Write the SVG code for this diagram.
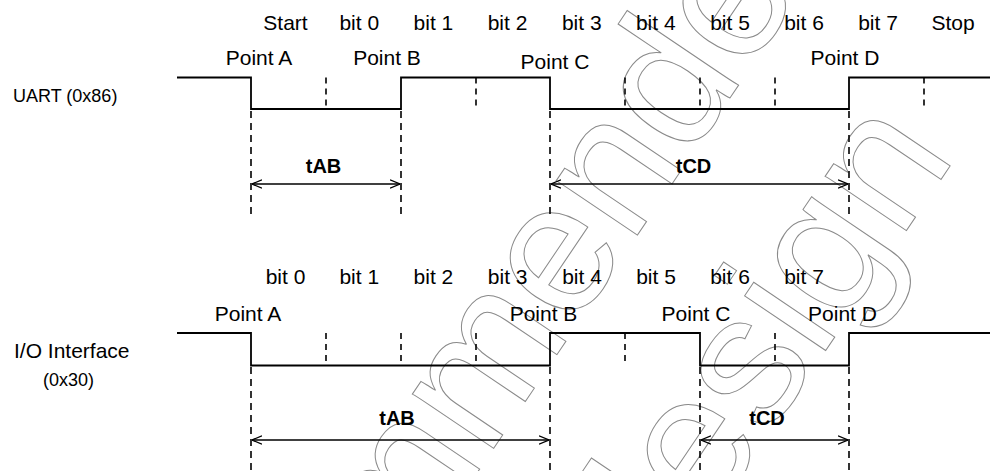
<svg xmlns="http://www.w3.org/2000/svg" width="990" height="471" viewBox="0 0 990 471">
<style>
text{font-family:"Liberation Sans",Arial,Helvetica,sans-serif;fill:#000}
.lbl{font-size:21px;text-anchor:middle}
.sig{font-size:18px}
.big{font-size:21px}
.dim{font-size:20px;font-weight:bold;text-anchor:middle}
.wave{fill:none;stroke:#000;stroke-width:1.8}
.tick{fill:none;stroke:#000;stroke-width:1.6;stroke-dasharray:6,5}
.guide{fill:none;stroke:#000;stroke-width:1.6;stroke-dasharray:7,5}
.arr{fill:none;stroke:#000;stroke-width:1.5;marker-start:url(#ah);marker-end:url(#ah)}
.wm{font-size:185px;fill:none;stroke:#8a8a8a;stroke-width:1}
</style>
<defs>
<marker id="ah" viewBox="0 0 10 10" refX="10" refY="5" markerWidth="10" markerHeight="10" markerUnits="userSpaceOnUse" orient="auto-start-reverse">
<path d="M0,0.8 L10,5 L0,9.2" fill="none" stroke="#000" stroke-width="1.3"/>
</marker>
</defs>
<rect width="990" height="471" fill="#fff"/>

<g id="watermark">
<text class="wm" transform="translate(199,885) rotate(-56)">recommended</text>
<text class="wm" transform="translate(652,608) rotate(-56)">design</text>
</g>

<g id="uart">
<text class="sig" x="13" y="101.5">UART (0x86)</text>
<g id="uart-bits">
<text class="lbl" x="285.5" y="29.5">Start</text>
<text class="lbl" x="359.3" y="29.5">bit 0</text>
<text class="lbl" x="433.4" y="29.5">bit 1</text>
<text class="lbl" x="507.5" y="29.5">bit 2</text>
<text class="lbl" x="581.8" y="29.5">bit 3</text>
<text class="lbl" x="655.8" y="29.5">bit 4</text>
<text class="lbl" x="730" y="29.5">bit 5</text>
<text class="lbl" x="804" y="29.5">bit 6</text>
<text class="lbl" x="878" y="29.5">bit 7</text>
<text class="lbl" x="953" y="29.5">Stop</text>
</g>
<g id="uart-points">
<text class="lbl" x="259" y="65">Point A</text>
<text class="lbl" x="387" y="65">Point B</text>
<text class="lbl" x="555" y="69">Point C</text>
<text class="lbl" x="845" y="65">Point D</text>
</g>
<path class="wave" d="M177,77.5 H251 V109 H401 V77.5 H550 V109 H849 V77.5 H990"/>
<path class="tick" d="M326,77.5 V109 M476,77.5 V109 M625,77.5 V109 M700,77.5 V109 M775,77.5 V109 M924,77.5 V109"/>
<path class="guide" d="M251,111 V215 M401,111 V215 M550,111 V215 M849,111 V215"/>
</g>

<g id="io">
<text class="big" x="14" y="358">I/O Interface</text>
<text class="sig" x="43" y="386">(0x30)</text>
<g id="io-bits">
<text class="lbl" x="285.5" y="284">bit 0</text>
<text class="lbl" x="359.3" y="284">bit 1</text>
<text class="lbl" x="433.4" y="284">bit 2</text>
<text class="lbl" x="507.7" y="284">bit 3</text>
<text class="lbl" x="582" y="284">bit 4</text>
<text class="lbl" x="656" y="284">bit 5</text>
<text class="lbl" x="730" y="284">bit 6</text>
<text class="lbl" x="804" y="284">bit 7</text>
</g>
<g id="io-points">
<text class="lbl" x="248" y="320.5">Point A</text>
<text class="lbl" x="543.5" y="320.5">Point B</text>
<text class="lbl" x="696" y="320.5">Point C</text>
<text class="lbl" x="842.5" y="320.5">Point D</text>
</g>
<path class="wave" d="M177,333 H251 V365.5 H550 V333 H700 V365.5 H849 V333 H990"/>
<path class="tick" d="M326,333 V365.5 M401,333 V365.5 M476,333 V365.5 M625,333 V365.5 M775,333 V365.5"/>
<path class="guide" d="M251,367 V471 M550,367 V471 M700,367 V471 M849,367 V471"/>
</g>

<g id="connectors">
<line class="arr" x1="252" y1="184" x2="400" y2="184"/>
<line class="arr" x1="551" y1="184" x2="848" y2="184"/>
<line class="arr" x1="252" y1="440" x2="549" y2="440"/>
<line class="arr" x1="701" y1="440" x2="848" y2="440"/>
<text class="dim" x="323.5" y="172.5">tAB</text>
<text class="dim" x="693.5" y="172.5">tCD</text>
<text class="dim" x="397" y="425">tAB</text>
<text class="dim" x="767" y="424.5">tCD</text>
</g>
</svg>
